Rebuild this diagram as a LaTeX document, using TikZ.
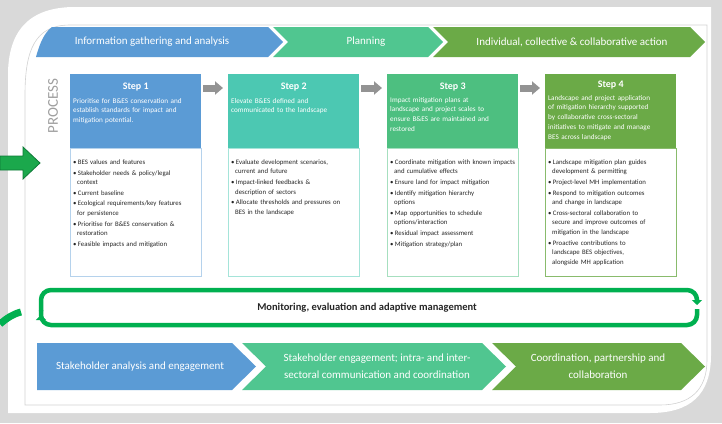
\documentclass[tikz,border=0pt]{standalone}
\usepackage{fontspec}
\setmainfont{Carlito}
\usetikzlibrary{arrows.meta}
\definecolor{stepblue}{HTML}{5B9BD5}
\definecolor{stepteal}{HTML}{4CC8B2}
\definecolor{stepmint}{HTML}{4DBF80}
\definecolor{stepgreen}{HTML}{6BAA47}
\definecolor{planmint}{HTML}{50C690}
\definecolor{loopgreen}{HTML}{00B050}
\definecolor{arrowgreen}{HTML}{1BA84C}
\definecolor{arrowedge}{HTML}{0E7A38}
\definecolor{framegray}{HTML}{D9D9D9}
\newcommand{\itm}[1]{\par\parskip=1.2pt\hangindent=4pt\hangafter=1\noindent\textbullet\hspace{1.3pt}#1\par}
\begin{document}
\begin{tikzpicture}[>=latex, x=1pt, y=-1pt,
	head/.style={anchor=north west, minimum width=131pt, minimum height=74pt, inner sep=0pt},
	body/.style={draw, line width=0.8pt, fill=white, anchor=north west, minimum width=131pt, minimum height=128pt, inner sep=0pt},
	title/.style={white, font=\fontsize{10}{12}\selectfont\bfseries},
	desc/.style={white, anchor=north west, text width=126pt, align=left, inner sep=0pt, font=\fontsize{7.2}{9.7}\selectfont},
	bullets/.style={anchor=north west, text width=126pt, align=left, inner sep=0pt, font=\fontsize{6.8}{9.5}\selectfont, text=black!85},
	chev/.style={white, align=center, font=\fontsize{11}{17}\selectfont},
	steparrow/.style={line width=7pt, draw=gray!85, -{Triangle[length=8pt,width=13pt]}},
	loop/.style={line width=4.5pt, draw=loopgreen, rounded corners=10pt, -{Triangle[length=5pt,width=10pt]}}]
	\useasboundingbox (0,0) rectangle (722,423);
	\fill[framegray] (0,0) rectangle (722,423);
	\fill[white] (8,413) -- (8,75) .. controls (8,30) and (30,7) .. (75,7) -- (711,7) -- (711,355) .. controls (711,395) and (690,413) .. (650,413) -- cycle;
	\draw[gray!35, line width=0.6pt] (25,405) -- (25,95) .. controls (25,50) and (35,25) .. (70,25) -- (707,25) -- (707,360) .. controls (707,390) and (690,405) .. (660,405) -- cycle;

	\fill[stepblue] (36,57) .. controls (40,42) and (45,32) .. (52,27) -- (268,27) -- (283,42) -- (268,57) -- cycle;
	\fill[planmint] (273,27) -- (428,27) -- (443,42) -- (428,57) -- (273,57) -- (288,42) -- cycle;
	\fill[stepgreen] (433,27) -- (690,27) -- (705,42) -- (690,57) -- (433,57) -- (448,42) -- cycle;
	\node[chev] (top1) at (152,42) {Information gathering and analysis};
	\node[chev] (top2) at (366,42) {Planning};
	\node[chev] (top3) at (572,42) {Individual, collective \& collaborative action};

	\node[rotate=90, text=gray!75, font=\fontsize{15}{15}\selectfont] (proc) at (53,106) {PROCESS};

	\node[head, fill=stepblue] (h1) at (70,74) {};
	\node[head, fill=stepteal] (h2) at (228,74) {};
	\node[head, fill=stepmint] (h3) at (387,74) {};
	\node[head, fill=stepgreen] (h4) at (545,74) {};
	\node[body, draw=stepblue!45] (b1) at (h1.south west) {};
	\node[body, draw=stepteal!50] (b2) at (h2.south west) {};
	\node[body, draw=stepmint!50] (b3) at (h3.south west) {};
	\node[body, draw=stepgreen!80] (b4) at (h4.south west) {};

	\node[title] (t1) at ([yshift=-13pt]h1.north) {Step 1};
	\node[title] (t2) at ([yshift=-13pt]h2.north) {Step 2};
	\node[title] (t3) at ([yshift=-13pt]h3.north) {Step 3};
	\node[title] (t4) at ([yshift=-11pt]h4.north) {Step 4};
	\node[desc] (d1) at ([xshift=3pt, yshift=-24pt]h1.north west) {Prioritise for B\&ES conservation and\\establish standards for impact and\\mitigation potential.};
	\node[desc] (d2) at ([xshift=3pt, yshift=-24pt]h2.north west) {Elevate B\&ES defined and\\communicated to the landscape};
	\node[desc] (d3) at ([xshift=3pt, yshift=-23pt]h3.north west) {Impact mitigation plans at\\landscape and project scales to\\ensure B\&ES are maintained and\\restored};
	\node[desc] (d4) at ([xshift=3pt, yshift=-21pt]h4.north west) {Landscape and project application\\of mitigation hierarchy supported\\by collaborative cross-sectoral\\initiatives to mitigate and manage\\BES across landscape};

	\node[bullets] (l1) at ([xshift=3pt, yshift=-5pt]b1.north west) {\itm{BES values and features}\itm{Stakeholder needs \& policy/legal\newline context}\itm{Current baseline}\itm{Ecological requirements/key features\newline for persistence}\itm{Prioritise for B\&ES conservation \&\newline restoration}\itm{Feasible impacts and mitigation}};
	\node[bullets] (l2) at ([xshift=3pt, yshift=-5pt]b2.north west) {\itm{Evaluate development scenarios,\newline current and future}\itm{Impact-linked feedbacks \&\newline description of sectors}\itm{Allocate thresholds and pressures on\newline BES in the landscape}};
	\node[bullets] (l3) at ([xshift=3pt, yshift=-5pt]b3.north west) {\itm{Coordinate mitigation with known impacts\newline and cumulative effects}\itm{Ensure land for impact mitigation}\itm{Identify mitigation hierarchy\newline options}\itm{Map opportunities to schedule\newline options/interaction}\itm{Residual impact assessment}\itm{Mitigation strategy/plan}};
	\node[bullets] (l4) at ([xshift=3pt, yshift=-5pt]b4.north west) {\itm{Landscape mitigation plan guides\newline development \& permitting}\itm{Project-level MH implementation}\itm{Respond to mitigation outcomes\newline and change in landscape}\itm{Cross-sectoral collaboration to\newline secure and improve outcomes of\newline mitigation in the landscape}\itm{Proactive contributions to\newline landscape BES objectives,\newline alongside MH application}};

	\draw[steparrow] ([xshift=2pt, yshift=-14pt]h1.north east) -- ([xshift=-5pt, yshift=-14pt]h2.north west);
	\draw[steparrow] ([xshift=2pt, yshift=-14pt]h2.north east) -- ([xshift=-5pt, yshift=-14pt]h3.north west);
	\draw[steparrow] ([xshift=2pt, yshift=-14pt]h3.north east) -- ([xshift=-5pt, yshift=-14pt]h4.north west);

	\draw[loop] (41,311) -- (41,290) -- (697,290) -- (697,305);
	\draw[loop] (697,309) -- (697,325) -- (41,325) -- (41,315);
	\node[font=\fontsize{10.5}{12}\selectfont\bfseries, text=black!85] (mon) at (367,307.5) {Monitoring, evaluation and adaptive management};

	\fill[stepblue] (37,343) -- (232,343) -- (256,366.5) -- (232,390) -- (37,390) -- cycle;
	\fill[planmint] (242,343) -- (482,343) -- (506,366.5) -- (482,390) -- (242,390) -- (266,366.5) -- cycle;
	\fill[stepgreen] (492,343) -- (681,343) -- (705,366.5) -- (681,390) -- (492,390) -- (516,366.5) -- cycle;
	\node[chev] (bot1) at (140,366.5) {Stakeholder analysis and engagement};
	\node[chev] (bot2) at (377,366.5) {Stakeholder engagement; intra- and inter-\\sectoral communication and coordination};
	\node[chev] (bot3) at (598,366.5) {Coordination, partnership and\\collaboration};

	\filldraw[fill=arrowgreen, draw=arrowedge, line width=0.8pt] (0,156) -- (23,156) -- (23,147) -- (40,163) -- (23,179) -- (23,170) -- (0,170) -- cycle;
	\draw[line width=7pt, loopgreen] (0,324) .. controls (7,318) and (13,314) .. (21,312);
\end{tikzpicture}
\end{document}
